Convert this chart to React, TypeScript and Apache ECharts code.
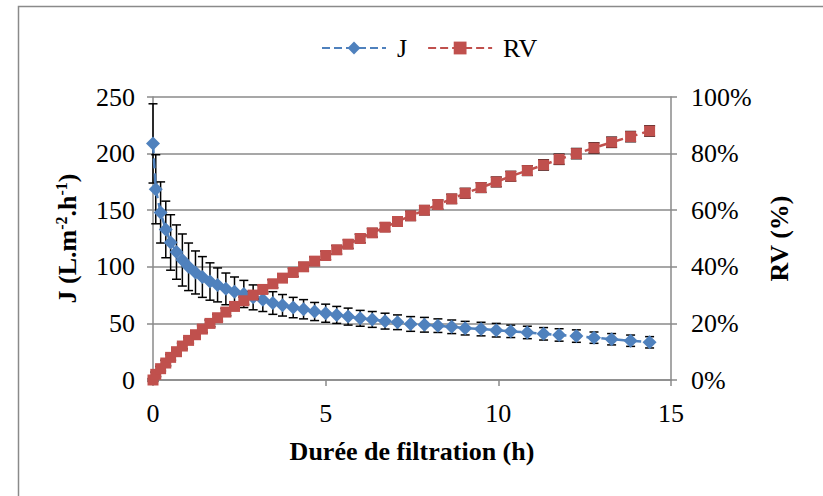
import React, { useEffect, useRef } from "react";
import * as echarts from "echarts";

const hours = [0, 0.08, 0.22, 0.37, 0.51, 0.68, 0.85, 1.03, 1.23, 1.43, 1.65, 1.87, 2.11, 2.36, 2.63, 2.9, 3.18, 3.47, 3.75, 4.06, 4.36, 4.68, 5.0, 5.32, 5.65, 6.0, 6.35, 6.72, 7.08, 7.46, 7.86, 8.25, 8.65, 9.04, 9.5, 9.94, 10.36, 10.84, 11.31, 11.76, 12.26, 12.77, 13.28, 13.83, 14.38];
const fluxJ = [209, 168.5, 148, 133, 121.5, 113, 106, 100, 95, 91, 87, 84, 80.5, 78, 76, 73, 71, 68, 66, 64, 62.5, 60.5, 59, 57.5, 56, 54.5, 53.5, 52, 51, 49.5, 48.8, 48, 47, 45.8, 45, 44, 43, 42, 40.8, 39.8, 38.8, 37.4, 36, 34.7, 33.3];
const fluxErr = [35, 30.5, 27, 25, 24.5, 24, 23, 21, 19, 18, 16.5, 15, 14, 13, 12, 11, 10.5, 10, 9.5, 9, 8.5, 8, 8, 7.5, 7.5, 7, 7, 7, 6.5, 6.5, 6.5, 6, 6, 6, 6, 6, 5.5, 5.5, 5.5, 5.5, 5.5, 5, 5, 5, 5];
const rvPct = [0, 2, 4, 6, 8, 10, 12, 14, 16, 18, 20, 22, 24, 26, 28, 30, 32, 34, 36, 38, 40, 42, 44, 46, 48, 50, 52, 54, 56, 58, 60, 62, 64, 66, 68, 70, 72, 74, 76, 78, 80, 82, 84, 86, 88];
const rvErr = [0.5, 0.8, 0.8, 1, 1, 1, 1, 1, 1.2, 1.2, 1.2, 1.2, 1.3, 1.3, 1.3, 1.4, 1.4, 1.4, 1.4, 1.4, 1.5, 1.5, 1.5, 1.5, 1.5, 1.5, 1.5, 1.5, 1.6, 1.6, 1.6, 1.6, 1.6, 1.7, 1.7, 1.7, 1.7, 1.7, 1.8, 1.8, 1.8, 1.8, 1.8, 1.8, 1.8];

const xTicks = { min: 0, max: 15, interval: 5 };
const jTicks = { min: 0, max: 250, interval: 50 };
const rvTicks = { min: 0, max: 100, interval: 20 };

const BLUE = "#4F81BD";
const RED = "#C0504D";
const GRAY = "#8a8a8a";
const FONT = "Liberation Serif";

function errRenderer(halfCap: number) {
  return (params: any, api: any) => {
    const x = api.value(0);
    const lo = api.value(1);
    const hi = api.value(2);
    const a = api.coord([x, hi]);
    const b = api.coord([x, lo]);
    const st = { stroke: "#000", lineWidth: 1.5 };
    return {
      type: "group",
      children: [
        { type: "line", shape: { x1: a[0], y1: a[1], x2: b[0], y2: b[1] }, style: st },
        { type: "line", shape: { x1: a[0] - halfCap, y1: a[1], x2: a[0] + halfCap, y2: a[1] }, style: st },
        { type: "line", shape: { x1: b[0] - halfCap, y1: b[1], x2: b[0] + halfCap, y2: b[1] }, style: st },
      ],
    };
  };
}

export default function App() {
  const ref = useRef<HTMLDivElement>(null);
  useEffect(() => {
    if (!ref.current) return;
    const chart = echarts.init(ref.current, null, { renderer: "svg" });
    const jData = hours.map((h, i) => [h, fluxJ[i]]);
    const rvData = hours.map((h, i) => [h, rvPct[i]]);
    const jErrData = hours.map((h, i) => [h, fluxJ[i] - fluxErr[i], fluxJ[i] + fluxErr[i]]);
    const rvErrData = hours.map((h, i) => [h, rvPct[i] - rvErr[i], rvPct[i] + rvErr[i]]);
    const axisCommon = {
      axisLine: { show: true, lineStyle: { color: GRAY, width: 1.5 } },
      axisTick: { show: true, length: 6, lineStyle: { color: GRAY, width: 1.5 } },
      axisLabel: { color: "#000", fontFamily: FONT, fontSize: 26 },
      nameTextStyle: { color: "#000", fontFamily: FONT, fontSize: 26, fontWeight: "bold" },
    };
    chart.setOption({
      animation: false,
      backgroundColor: "#fff",
      graphic: [
        {
          type: "rect",
          shape: { x: 18.5, y: 6.5, width: 900, height: 600 },
          style: { fill: "none", stroke: GRAY, lineWidth: 1.5 },
          silent: true,
        },
      ],
      legend: {
        left: 316,
        top: 30,
        itemWidth: 64,
        itemHeight: 16,
        itemGap: 20,
        data: ["J", "RV"],
        textStyle: { color: "#000", fontFamily: FONT, fontSize: 26, padding: [0, 0, 0, 6] },
      },
      grid: { left: 153, right: 152, top: 97, bottom: 116 },
      xAxis: {
        type: "value",
        ...xTicks,
        ...axisCommon,
        splitLine: { show: false },
        axisLabel: { ...axisCommon.axisLabel, margin: 20 },
        name: "Durée de filtration (h)",
        nameLocation: "middle",
        nameGap: 58,
      },
      yAxis: [
        {
          type: "value",
          ...jTicks,
          ...axisCommon,
          splitLine: { show: true, lineStyle: { color: GRAY, width: 1.5 } },
          axisLabel: { ...axisCommon.axisLabel, margin: 18 },
          name: "J (L.m{sup|-2}.h{sup|-1})",
          nameLocation: "middle",
          nameGap: 72,
          nameTextStyle: {
            ...axisCommon.nameTextStyle,
            lineHeight: 28,
            rich: {
              sup: { fontFamily: FONT, fontSize: 16, fontWeight: "bold", color: "#000", verticalAlign: "top", lineHeight: 28, padding: [0, 0, 10, 0] },
            },
          },
        },
        {
          type: "value",
          ...rvTicks,
          ...axisCommon,
          position: "right",
          splitLine: { show: false },
          axisLabel: { ...axisCommon.axisLabel, margin: 20, formatter: "{value}%" },
          name: "RV (%)",
          nameLocation: "middle",
          nameGap: 95,
        },
      ],
      series: [
        {
          type: "custom",
          name: "Jerr",
          yAxisIndex: 0,
          z: 2,
          renderItem: errRenderer(4.5),
          data: jErrData,
          encode: { x: 0, y: [1, 2] },
          silent: true,
        },
        {
          type: "line",
          name: "J",
          yAxisIndex: 0,
          z: 3,
          data: jData,
          symbol: "diamond",
          symbolSize: 14,
          itemStyle: { color: BLUE },
          lineStyle: { color: BLUE, width: 2.5, type: "dashed" },
        },
        {
          type: "custom",
          name: "RVerr",
          yAxisIndex: 1,
          z: 4,
          renderItem: errRenderer(5.5),
          data: rvErrData,
          encode: { x: 0, y: [1, 2] },
          silent: true,
        },
        {
          type: "line",
          name: "RV",
          yAxisIndex: 1,
          z: 5,
          data: rvData,
          symbol: "rect",
          symbolSize: 11,
          itemStyle: { color: RED },
          lineStyle: { color: RED, width: 2.5, type: "dashed" },
        },
      ],
    });
    return () => chart.dispose();
  }, []);
  return <div ref={ref} style={{ position: "fixed", left: 0, top: 0, width: 823, height: 496 }} />;
}
